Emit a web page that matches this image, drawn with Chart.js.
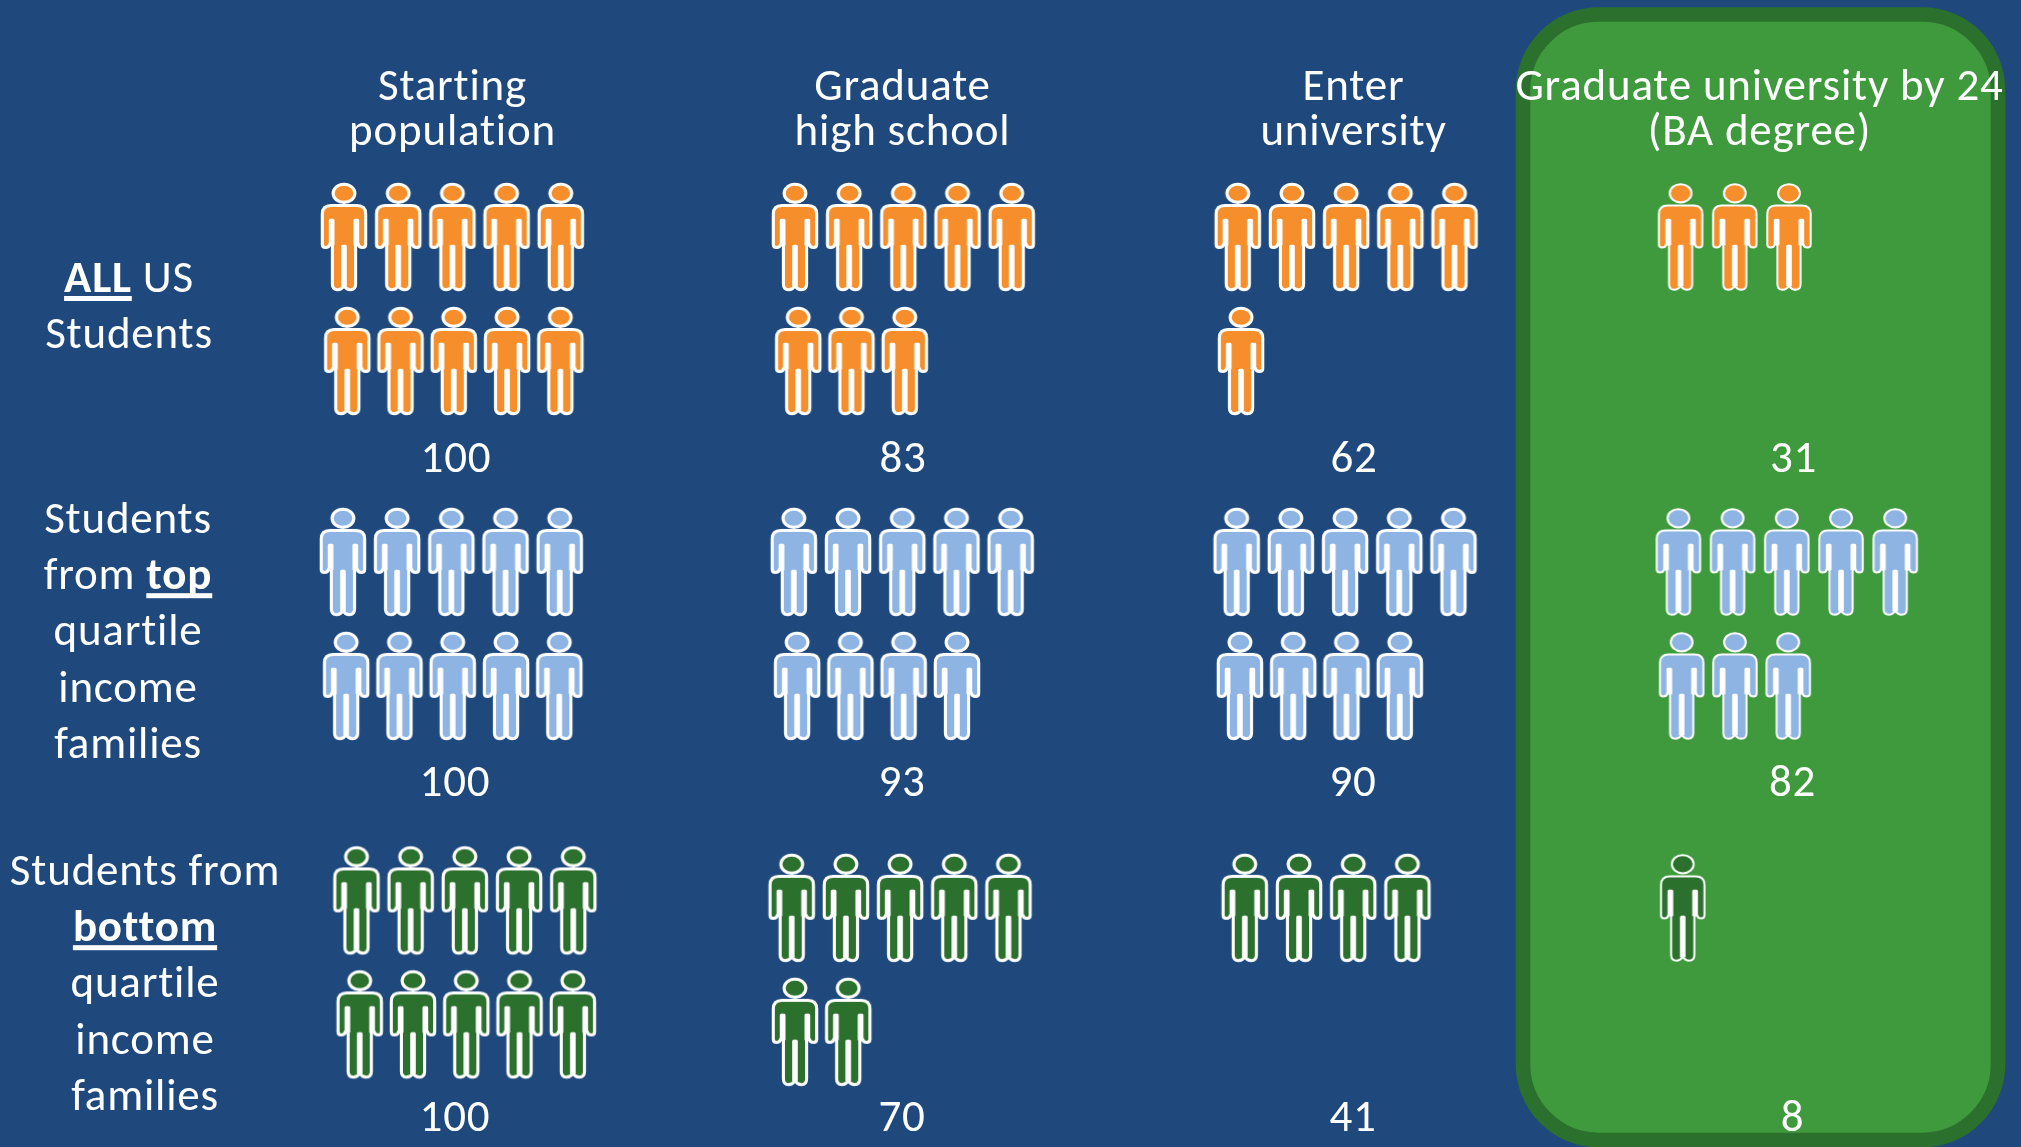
<!DOCTYPE html>
<html>
<head>
<meta charset="utf-8">
<title>US students by income quartile</title>
<script src="https://cdn.jsdelivr.net/npm/chart.js@4"></script>
<style>
  html, body { margin: 0; padding: 0; background: #1f497d; overflow: hidden; }
  canvas { display: block; }
</style>
</head>
<body>
<canvas id="peopleChart" width="2021" height="1147"></canvas>
<script>
// Students still in the pipeline, per 100 starting students
const stages = ['Starting population', 'Graduate high school', 'Enter university', 'Graduate university by 24 (BA degree)'];
const allStudents = [100, 83, 62, 31];
const topQuartile = [100, 93, 90, 82];
const bottomQuartile = [100, 70, 41, 8];
const groupValues = [allStudents, topQuartile, bottomQuartile];

// One person icon stands for ten students
const perIcon = 10;
const iconsPerLine = 5;

const stageLines = [
  ['Starting', 'population'],
  ['Graduate', 'high school'],
  ['Enter', 'university'],
  ['Graduate university by 24', '(BA degree)']
];

// Row labels, each line is a list of [text, emphasised] runs
const allLabel = [[['ALL', true], [' US', false]], [['Students', false]]];
const topLabel = [
  [['Students', false]],
  [['from ', false], ['top', true]],
  [['quartile', false]],
  [['income', false]],
  [['families', false]]
];
const bottomLabel = [
  [['Students from', false]],
  [['bottom', true]],
  [['quartile', false]],
  [['income', false]],
  [['families', false]]
];
const groupLabels = [allLabel, topLabel, bottomLabel];

const groupColors = ['#f68f2b', '#8eb4e3', '#2c702d'];

// Layout: x axis counts icon widths, y axis counts icon lines
const slotPx = 54.2;
const linePx = 124;
const originX = 344;
const originY = 237;
const stageStart = [
  [0, 8.32, 16.49, 24.66],
  [-0.02, 8.3, 16.47, 24.62],
  [0.23, 8.26, 16.62, 24.7]
];
const groupStart = [
  [0, 0, 0, 0],
  [2.62, 2.62, 2.62, 2.62],
  [5.35, 5.41, 5.41, 5.41]
];
const wrapIndent = [0.06, 0.06, 0.06];
const wrapPitch = 0.983;

// Text placement in page pixels
const stageTextX = [452.5, 902.5, 1353.5, 1759.5];
const valueTextX = [456, 903, 1354, 1793.5];
const valueTextY = [472, 796, 1131];
const labelTextX = [129, 128, 145];
const labelTextY = [292, 533, 885];

const textFont = 'Carlito, Calibri, Lato, sans-serif';
const textSize = 45;

function personIcon(color, lineWidth) {
  const icon = document.createElement('canvas');
  icon.width = 52;
  icon.height = 112;
  const c = icon.getContext('2d');
  c.translate(26, 2);
  c.fillStyle = color;
  c.strokeStyle = '#ffffff';
  c.lineWidth = lineWidth;
  c.lineJoin = 'round';

  c.beginPath();
  c.ellipse(0, 10.3, 10.9, 9.1, 0, 0, Math.PI * 2);
  c.fill();
  c.stroke();

  c.beginPath();
  c.moveTo(-13, 22.5);
  c.lineTo(13, 22.5);
  c.quadraticCurveTo(21.7, 22.5, 21.7, 31);
  c.lineTo(21.7, 61.5);
  c.quadraticCurveTo(21.7, 64.5, 18.5, 64.5);
  c.quadraticCurveTo(15, 64.5, 14.5, 61.5);
  c.lineTo(11.6, 61.5);
  c.lineTo(11.6, 101);
  c.quadraticCurveTo(11.6, 106.7, 6.5, 106.7);
  c.quadraticCurveTo(2, 106.7, 0, 102.5);
  c.quadraticCurveTo(-2, 106.7, -6.5, 106.7);
  c.quadraticCurveTo(-11.6, 106.7, -11.6, 101);
  c.lineTo(-11.6, 61.5);
  c.lineTo(-14.5, 61.5);
  c.quadraticCurveTo(-15, 64.5, -18.5, 64.5);
  c.quadraticCurveTo(-21.7, 64.5, -21.7, 61.5);
  c.lineTo(-21.7, 31);
  c.quadraticCurveTo(-21.7, 22.5, -13, 22.5);
  c.closePath();
  c.fill();
  c.stroke();

  // White gaps between the arms, torso and legs
  c.fillStyle = '#ffffff';
  c.beginPath();
  c.roundRect(-15.2, 35.7, 5.7, 26.5, [1.5, 1.5, 0, 0]);
  c.roundRect(9.5, 35.7, 5.7, 26.5, [1.5, 1.5, 0, 0]);
  c.roundRect(-2.8, 61.7, 5.6, 41.5, [1.5, 1.5, 0, 0]);
  c.fill();
  return icon;
}

function buildPeople(values, group) {
  const points = [];
  values.forEach((value, stage) => {
    const icons = Math.round(value / perIcon);
    for (let i = 0; i < icons; i++) {
      const wrapped = i >= iconsPerLine;
      const slot = i % iconsPerLine;
      points.push({
        x: stageStart[group][stage] + (wrapped ? wrapIndent[group] + slot * wrapPitch : slot),
        y: groupStart[group][stage] + (wrapped ? 1 : 0),
        stage: stage
      });
    }
  });
  return points;
}

const datasets = groupValues.map((values, group) => {
  const thick = personIcon(groupColors[group], 3.1);
  const thin = personIcon(groupColors[group], 2);
  const points = buildPeople(values, group);
  return {
    label: ['All US students', 'Top quartile', 'Bottom quartile'][group],
    data: points,
    showLine: false,
    pointRadius: 1,
    pointStyle: points.map(p => (p.stage === 3 ? thin : thick))
  };
});

// Highlight panel behind the last stage
const panelPlugin = {
  id: 'panel',
  beforeDatasetsDraw(chart) {
    const c = chart.ctx;
    c.save();
    c.beginPath();
    c.roundRect(1523, 14.5, 475, 1125.5, 76);
    c.fillStyle = '#3e9a3c';
    c.fill();
    c.lineWidth = 14.6;
    c.strokeStyle = '#2c702d';
    c.stroke();
    c.restore();
  }
};

function drawRuns(c, runs, centerX, y) {
  const fontFor = bold => (bold ? 'bold ' : '') + textSize + 'px ' + textFont;
  let width = 0;
  runs.forEach(run => {
    c.font = fontFor(run[1]);
    width += c.measureText(run[0]).width;
  });
  let x = centerX - width / 2;
  c.textAlign = 'left';
  runs.forEach(run => {
    c.font = fontFor(run[1]);
    c.fillText(run[0], x, y);
    const w = c.measureText(run[0]).width;
    if (run[1]) {
      c.fillRect(x, y + 4, w, 5);
    }
    x += w;
  });
}

const textPlugin = {
  id: 'texts',
  afterDatasetsDraw(chart) {
    const c = chart.ctx;
    c.save();
    c.fillStyle = '#ffffff';
    c.textBaseline = 'alphabetic';
    c.letterSpacing = '0.8px';

    stageLines.forEach((lines, stage) => {
      lines.forEach((line, i) => {
        drawRuns(c, [[line, false]], stageTextX[stage], 100 + i * 45);
      });
    });

    groupLabels.forEach((lines, group) => {
      lines.forEach((runs, i) => {
        drawRuns(c, runs, labelTextX[group], labelTextY[group] + i * 56.2);
      });
    });

    groupValues.forEach((values, group) => {
      values.forEach((value, stage) => {
        drawRuns(c, [[String(value), false]], valueTextX[stage] - (group === 0 ? 0 : 1), valueTextY[group]);
      });
    });
    c.restore();
  }
};

const ctx = document.getElementById('peopleChart').getContext('2d');

const peopleChart = new Chart(ctx, {
  type: 'scatter',
  data: { datasets: datasets },
  plugins: [panelPlugin, textPlugin],
  options: {
    responsive: false,
    animation: false,
    layout: { padding: 0, autoPadding: false },
    plugins: {
      legend: { display: false },
      tooltip: { enabled: false }
    },
    scales: {
      x: {
        type: 'linear',
        display: false,
        min: -originX / slotPx,
        max: (2021 - originX) / slotPx
      },
      y: {
        type: 'linear',
        display: false,
        reverse: true,
        min: -originY / linePx,
        max: (1147 - originY) / linePx
      }
    }
  }
});
</script>
</body>
</html>
